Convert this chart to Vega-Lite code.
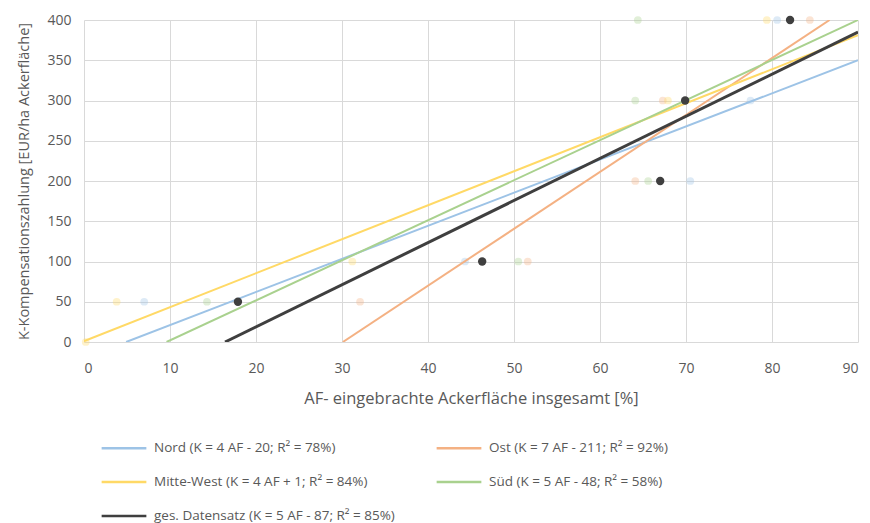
{
  "$schema": "https://vega.github.io/schema/vega-lite/v6.json",
  "width": 774,
  "height": 322,
  "autosize": {"type": "none"},
  "padding": {"left": 84, "top": 20, "right": 12, "bottom": 181},
  "background": "white",
  "config": {
    "view": {"stroke": null},
    "font": "Open Sans",
    "axis": {"labelColor": "#595959", "titleColor": "#595959", "labelFont": "Open Sans", "titleFont": "Open Sans", "labelFontSize": 14, "titleFontSize": 14.5, "titleFontWeight": "normal", "gridColor": "#d9d9d9", "domain": false, "ticks": false},
    "legend": {"title": null, "orient": "none", "legendX": 16, "legendY": 404, "columns": 2, "direction": "horizontal", "symbolType": "stroke", "symbolSize": 2000, "symbolStrokeWidth": 2.5, "symbolOpacity": 1, "labelFontSize": 13.5, "labelColor": "#595959", "labelFont": "Open Sans", "columnPadding": 36, "rowPadding": 3, "labelOffset": 6, "labelLimit": 400}
  },
  "datasets": {
    "lines": [
      {"series": "Nord (K = 4 AF - 20; R² = 78%)", "af": 4.9, "k": 0},
      {"series": "Nord (K = 4 AF - 20; R² = 78%)", "af": 90, "k": 350},
      {"series": "Ost (K = 7 AF - 211; R² = 92%)", "af": 30.1, "k": 0},
      {"series": "Ost (K = 7 AF - 211; R² = 92%)", "af": 86.7, "k": 400},
      {"series": "Mitte-West (K = 4 AF + 1; R² = 84%)", "af": 0, "k": 1},
      {"series": "Mitte-West (K = 4 AF + 1; R² = 84%)", "af": 90, "k": 381},
      {"series": "Süd (K = 5 AF - 48; R² = 58%)", "af": 9.6, "k": 0},
      {"series": "Süd (K = 5 AF - 48; R² = 58%)", "af": 90, "k": 400},
      {"series": "ges. Datensatz (K = 5 AF - 87; R² = 85%)", "af": 16.4, "k": 0},
      {"series": "ges. Datensatz (K = 5 AF - 87; R² = 85%)", "af": 90, "k": 385}
    ],
    "points": [
      {"series": "Süd (K = 5 AF - 48; R² = 58%)", "af": 64.4, "k": 400},
      {"series": "Mitte-West (K = 4 AF + 1; R² = 84%)", "af": 79.4, "k": 400},
      {"series": "Nord (K = 4 AF - 20; R² = 78%)", "af": 80.6, "k": 400},
      {"series": "Ost (K = 7 AF - 211; R² = 92%)", "af": 84.4, "k": 400},
      {"series": "Süd (K = 5 AF - 48; R² = 58%)", "af": 64.1, "k": 300},
      {"series": "Ost (K = 7 AF - 211; R² = 92%)", "af": 67.3, "k": 300},
      {"series": "Mitte-West (K = 4 AF + 1; R² = 84%)", "af": 67.9, "k": 300},
      {"series": "Nord (K = 4 AF - 20; R² = 78%)", "af": 77.5, "k": 300},
      {"series": "Ost (K = 7 AF - 211; R² = 92%)", "af": 64.1, "k": 200},
      {"series": "Süd (K = 5 AF - 48; R² = 58%)", "af": 65.6, "k": 200},
      {"series": "Nord (K = 4 AF - 20; R² = 78%)", "af": 70.5, "k": 200},
      {"series": "Mitte-West (K = 4 AF + 1; R² = 84%)", "af": 31.2, "k": 100},
      {"series": "Nord (K = 4 AF - 20; R² = 78%)", "af": 44.3, "k": 100},
      {"series": "Süd (K = 5 AF - 48; R² = 58%)", "af": 50.5, "k": 100},
      {"series": "Ost (K = 7 AF - 211; R² = 92%)", "af": 51.6, "k": 100},
      {"series": "Mitte-West (K = 4 AF + 1; R² = 84%)", "af": 3.8, "k": 50},
      {"series": "Nord (K = 4 AF - 20; R² = 78%)", "af": 7.0, "k": 50},
      {"series": "Süd (K = 5 AF - 48; R² = 58%)", "af": 14.3, "k": 50},
      {"series": "Ost (K = 7 AF - 211; R² = 92%)", "af": 32.1, "k": 50},
      {"series": "Mitte-West (K = 4 AF + 1; R² = 84%)", "af": 0.2, "k": 0}
    ],
    "total": [
      {"series": "ges. Datensatz (K = 5 AF - 87; R² = 85%)", "af": 82.1, "k": 400},
      {"series": "ges. Datensatz (K = 5 AF - 87; R² = 85%)", "af": 69.9, "k": 300},
      {"series": "ges. Datensatz (K = 5 AF - 87; R² = 85%)", "af": 67.0, "k": 200},
      {"series": "ges. Datensatz (K = 5 AF - 87; R² = 85%)", "af": 46.3, "k": 100},
      {"series": "ges. Datensatz (K = 5 AF - 87; R² = 85%)", "af": 17.9, "k": 50}
    ]
  },
  "encoding": {
    "x": {"field": "af", "type": "quantitative", "scale": {"domain": [0, 90], "nice": false}, "axis": {"title": "AF- eingebrachte Ackerfläche insgesamt [%]", "titleFontSize": 16.5, "values": [0,10,20,30,40,50,60,70,80,90], "labelPadding": 19, "titlePadding": 15}},
    "y": {"field": "k", "type": "quantitative", "scale": {"domain": [0, 400], "nice": false}, "axis": {"title": "K-Kompensationszahlung [EUR/ha Ackerfläche]", "values": [0,50,100,150,200,250,300,350,400], "labelPadding": 13, "titlePadding": 15}}
  },
  "layer": [
    {
      "data": {"name": "points"},
      "mark": {"type": "circle", "size": 60, "opacity": 0.35},
      "encoding": {
        "color": {"field": "series", "type": "nominal",
          "scale": {"domain": ["Nord (K = 4 AF - 20; R² = 78%)", "Ost (K = 7 AF - 211; R² = 92%)", "Mitte-West (K = 4 AF + 1; R² = 84%)", "Süd (K = 5 AF - 48; R² = 58%)", "ges. Datensatz (K = 5 AF - 87; R² = 85%)"],
            "range": ["#9dc3e6", "#f4b183", "#ffd966", "#a9d18e", "#3f3f3f"]}}
      }
    },
    {
      "data": {"name": "lines"},
      "mark": {"type": "line", "clip": true},
      "encoding": {
        "detail": {"field": "series"},
        "color": {"field": "series", "type": "nominal"},
        "strokeWidth": {"condition": {"test": "indexof(datum.series, 'ges.') === 0", "value": 3}, "value": 2}
      }
    },
    {
      "data": {"name": "total"},
      "mark": {"type": "circle", "size": 70, "opacity": 1, "color": "#3f3f3f"},
      "encoding": {}
    }
  ]
}
